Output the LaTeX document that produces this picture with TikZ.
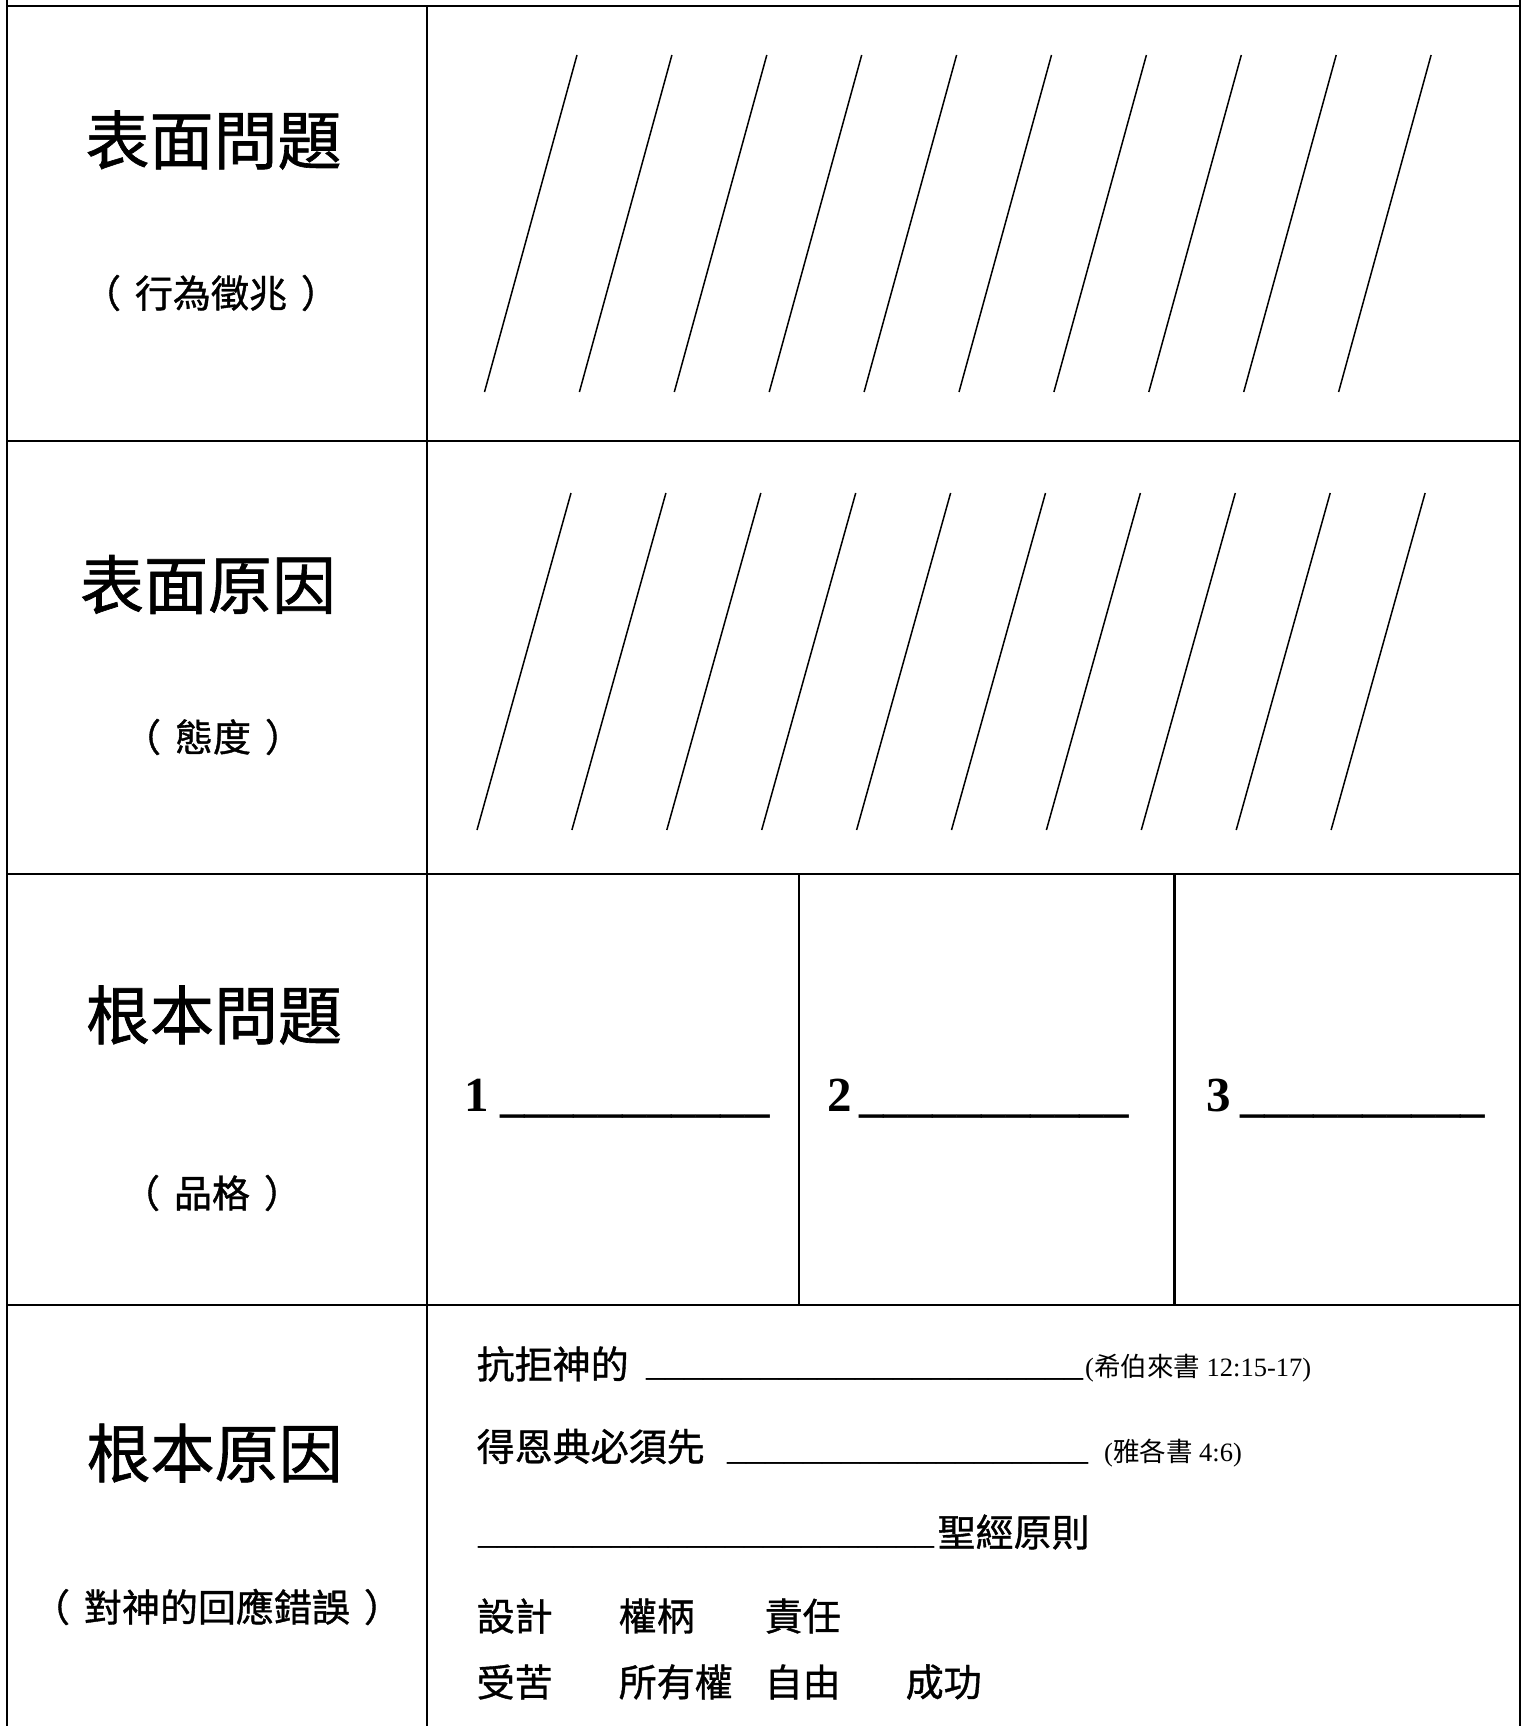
\documentclass[tikz,border=0pt]{standalone}
\usepackage{fontspec}
\setmainfont{Liberation Serif}
\newfontfamily\cjk[FakeBold=1]{Noto Sans CJK TC}
\newfontfamily\cjkref{Noto Sans CJK TC}
\newcommand{\lp}{（\hspace{14pt}}
\newcommand{\rp}{\hspace{14pt}）}
\tikzset{
  gridline/.style={line width=2.2pt},
  hatchline/.style={line width=1.5pt},
  titletext/.style={inner sep=0pt, font=\cjk\fontsize{64}{70}\selectfont},
  subtext/.style={inner sep=0pt, font=\cjk\fontsize{38}{44}\selectfont},
  bodytext/.style={inner sep=0pt, anchor=west, font=\cjk\fontsize{38}{44}\selectfont},
  blanktext/.style={inner sep=0pt, anchor=base west, font=\fontsize{38}{44}\selectfont},
  reftext/.style={inner sep=0pt, anchor=base west, font=\fontsize{26.5}{30}\selectfont},
  numtext/.style={inner sep=0pt, anchor=base west, font=\bfseries\fontsize{49}{55}\selectfont},
}
\begin{document}
\begin{tikzpicture}[x=1pt,y=-1pt]
\useasboundingbox[fill=white] (0,0) rectangle (1530,1726);
% table grid
\draw[gridline] (7,0) -- (7,1726);
\draw[gridline] (1520,0) -- (1520,1726);
\draw[gridline] (427,6) -- (427,1726);
\foreach \y in {6,441,874,1305} \draw[gridline] (6,\y) -- (1521,\y);
\draw[gridline] (799,874) -- (799,1305);
\draw[gridline] (1174.5,874) -- (1174.5,1305);
% hatching
\foreach \i in {0,...,9} {
  \draw[hatchline] (484.5+94.9*\i,392) -- (577+94.9*\i,55);
  \draw[hatchline] (477+94.9*\i,830) -- (571+94.9*\i,493);
}
% left column labels
\node[titletext] (t1) at (213.5,140) {表面問題};
\node[subtext] (s1) at (211,293) {\lp 行為徵兆\rp};
\node[titletext] (t2) at (208,584.5) {表面原因};
\node[subtext] (s2) at (213,737) {\lp 態度\rp};
\node[titletext] (t3) at (214,1015) {根本問題};
\node[subtext] (s3) at (212,1193) {\lp 品格\rp};
\node[titletext] (t4) at (214.6,1453) {根本原因};
\node[subtext] (s4) at (217,1607) {\lp 對神的回應錯誤\rp};
% row 3 blanks
\node[numtext] (n1) at (464,1111) {1};
\node[numtext] (u1) at (500,1111) {\_\_\_\_\_\_\_\_\_\_\_};
\node[numtext] (n2) at (827,1111) {2};
\node[numtext] (u2) at (859,1111) {\_\_\_\_\_\_\_\_\_\_\_};
\node[numtext] (n3) at (1206,1111) {3};
\node[numtext] (u3) at (1240,1111) {\_\_\_\_\_\_\_\_\_\_};
% row 4 text
\node[bodytext] (a1) at (476.5,1364) {抗拒神的};
\node[blanktext] (b1) at (646,1375.2) {\_\_\_\_\_\_\_\_\_\_\_\_\_\_\_\_\_\_\_\_\_\_\_};
\node[reftext] (r1) at (1085,1376) {({\cjkref 希伯來書} 12:15-17)};
\node[bodytext] (a2) at (476.5,1446.5) {得恩典必須先};
\node[blanktext] (b2) at (727,1459) {\_\_\_\_\_\_\_\_\_\_\_\_\_\_\_\_\_\_\_};
\node[reftext] (r2) at (1104,1461) {({\cjkref 雅各書} 4:6)};
\node[blanktext] (b3) at (478,1543) {\_\_\_\_\_\_\_\_\_\_\_\_\_\_\_\_\_\_\_\_\_\_\_\_};
\node[bodytext] (a3) at (937.5,1532) {聖經原則};
\node[bodytext] (w1) at (476.5,1616) {設計};
\node[bodytext] (w2) at (618.5,1616) {權柄};
\node[bodytext] (w3) at (764.5,1616) {責任};
\node[bodytext] (w4) at (476.5,1682) {受苦};
\node[bodytext] (w5) at (618.5,1682) {所有權};
\node[bodytext] (w6) at (764.5,1682) {自由};
\node[bodytext] (w7) at (905.5,1682) {成功};
\end{tikzpicture}
\end{document}
